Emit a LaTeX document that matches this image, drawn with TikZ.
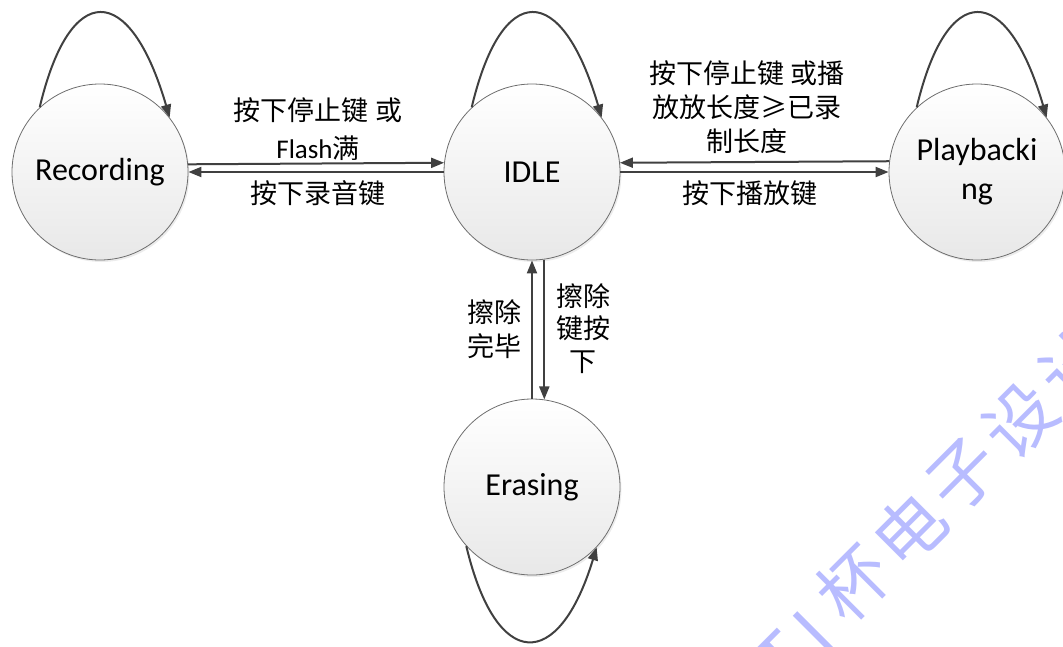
\documentclass[tikz,border=0pt]{standalone}
\usepackage{fontspec}
\setmainfont{Carlito}
\newfontfamily\cjk{Noto Sans CJK SC}
\usetikzlibrary{arrows.meta,shadows}
\definecolor{lineC}{HTML}{404040}
\definecolor{borderC}{HTML}{6E6E6E}
\definecolor{wmC}{HTML}{B8BCFF}
\begin{document}
\begin{tikzpicture}[x=1pt,y=-1pt,
  state/.style={circle, draw=borderC, line width=0.8pt, minimum size=176pt, inner sep=0pt,
    top color=white, bottom color=black!9,
    drop shadow={opacity=0.15, shadow xshift=1.5pt, shadow yshift=-2pt},
    font=\fontsize{32}{39}\selectfont, align=center},
  trans/.style={draw=lineC, line width=2pt, -{Triangle[length=13pt,width=10pt]}},
  lbl/.style={font=\cjk\fontsize{27}{34}\selectfont, inner sep=0pt, anchor=base},
  wm/.style={font=\cjk\fontsize{70}{70}\selectfont, text=wmC, rotate=45, inner sep=0pt}]
\useasboundingbox (0,0) rectangle (1063,646);

% watermark
\begin{scope}
\clip (0,0) rectangle (1063,646);
\node[wm] (w1) at (782,660) {T};
\node[wm] (w2) at (814,632) {I};
\node[wm] (w3) at (853,583) {杯};
\node[wm] (w4) at (909,530) {电};
\node[wm] (w5) at (964,475) {子};
\node[wm] (w6) at (1020,420) {设};
\node[wm] (w7) at (1076,365) {计};
\end{scope}

% states
\node[state] (rec)  at (100,172) {Recording};
\node[state] (idle) at (532,172) {IDLE};
\node[state] (play) at (977,172) {Playbacki\\ng};
\node[state] (era)  at (532,487) {Erasing};

% self loops
\draw[trans] (rec.133)  .. controls +(30,-127) and +(-40,-137) .. (rec.38);
\draw[trans] (idle.133) .. controls +(30,-127) and +(-40,-137) .. (idle.38);
\draw[trans] (play.133) .. controls +(30,-127) and +(-40,-137) .. (play.38);
\draw[trans] (era.-138) .. controls +(30,126) and +(-38,125) .. (era.-43);

% transitions
\draw[trans] (rec.5.2) -- (idle.174.8);
\draw[trans] (idle.west) -- (rec.east);
\draw[trans] (play.173.5) -- (idle.6.5);
\draw[trans] (idle.east) -- (play.west);
\draw[trans] (idle.-82.8) -- (era.82.8);
\draw[trans] (era.north) -- (idle.south);

% labels
\node[lbl] (a1) at (318,120) {按下停止键 或};
\node[lbl] (a2) at (318,158) {{\fontspec{Carlito}Flash}满};
\node[lbl] (a3) at (318,203) {按下录音键};
\node[lbl] (b1) at (747,83) {按下停止键 或播};
\node[lbl] (b2) at (747,117) {放放长度≥已录};
\node[lbl] (b3) at (747,151) {制长度};
\node[lbl] (b4) at (750,203) {按下播放键};
\node[lbl] (c1) at (494,322) {擦除};
\node[lbl] (c2) at (494,356) {完毕};
\node[lbl] (d1) at (583,306) {擦除};
\node[lbl] (d2) at (583,338) {键按};
\node[lbl] (d3) at (583,371) {下};
\end{tikzpicture}
\end{document}
